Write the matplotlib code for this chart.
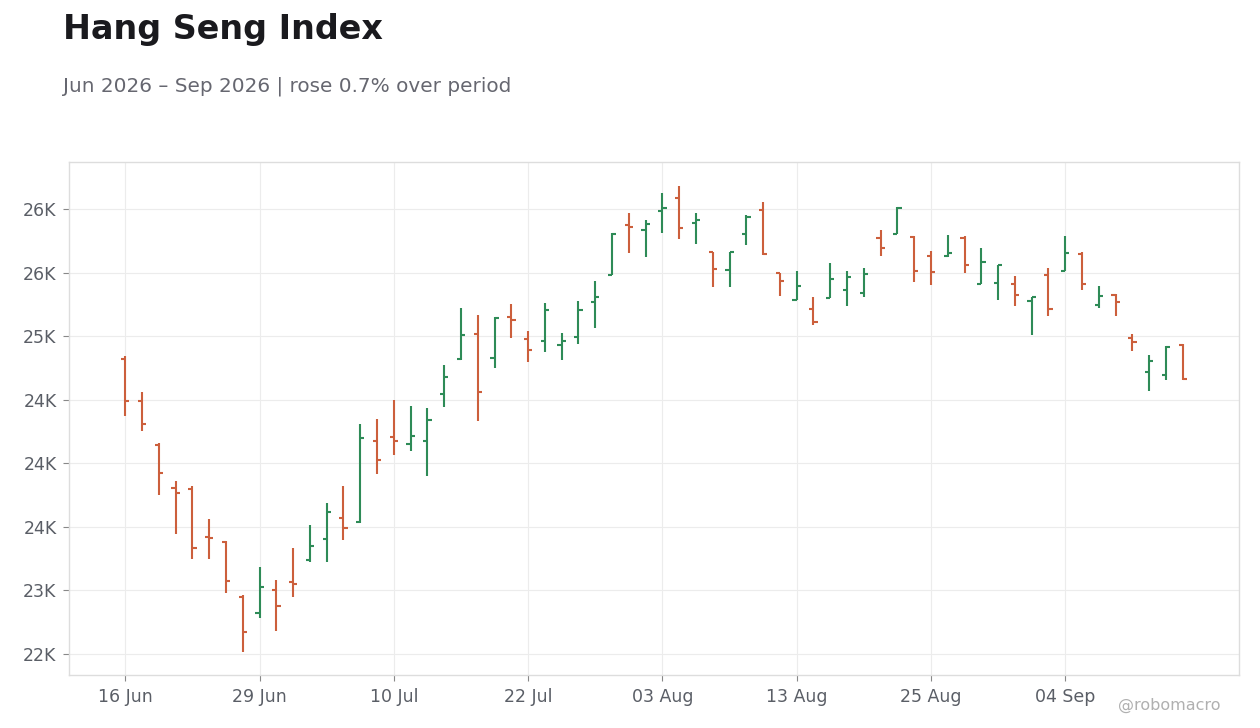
import matplotlib
matplotlib.use("Agg")
import matplotlib.pyplot as plt
import pandas as pd

plt.rcParams["font.family"] = ["DejaVu Sans"]

# trading days (HK holidays 19 Jun and 1 Jul skipped)
days = pd.bdate_range("2026-06-16", "2026-09-15")
days = days[~days.isin(pd.to_datetime(["2026-06-19", "2026-07-01"]))]

opens = [24823, 24492, 24146, 23808, 23800, 23423, 23385, 22951, 22825, 23006,
         23069, 23239, 23407, 23572, 23541, 24178, 24209, 24154, 24178, 24547,
         24823, 25019, 24830, 25153, 24980, 24964, 24933, 24996, 25271, 25483,
         25877, 25835, 25987, 26089, 25892, 25664, 25523, 25806, 25994, 25495,
         25287, 25216, 25302, 25365, 25342, 25774, 25806, 25782, 25633, 25633,
         25774, 25412, 25420, 25412, 25279, 25483, 25515, 25648, 25247, 25326,
         24988, 24720, 24697, 24933]
highs = [24844, 24561, 24157, 23861, 23821, 23562, 23391, 22962, 23184, 23082,
         23334, 23515, 23688, 23821, 24309, 24348, 24498, 24451, 24435, 24773,
         25221, 25166, 25148, 25253, 25040, 25261, 25025, 25276, 25434, 25809,
         25969, 25913, 26126, 26181, 25969, 25664, 25664, 25950, 26055, 25499,
         25512, 25308, 25575, 25512, 25536, 25835, 26013, 25788, 25670, 25796,
         25788, 25693, 25562, 25473, 25310, 25536, 25788, 25662, 25394, 25331,
         25017, 24852, 24925, 24938]
lows = [24372, 24256, 23753, 23446, 23250, 23250, 22982, 22518, 22786, 22683,
        22951, 23226, 23226, 23399, 23530, 23918, 24068, 24099, 23902, 24445,
        24815, 24335, 24752, 24988, 24799, 24878, 24815, 24941, 25066, 25480,
        25656, 25625, 25814, 25766, 25727, 25389, 25389, 25719, 25640, 25318,
        25285, 25090, 25300, 25239, 25310, 25633, 25800, 25428, 25405, 25625,
        25499, 25410, 25287, 25239, 25011, 25161, 25510, 25365, 25224, 25161,
        24886, 24571, 24657, 24657]
closes = [24490, 24311, 23926, 23766, 23336, 23415, 23077, 22673, 23029, 22880,
          23053, 23352, 23619, 23491, 24201, 24026, 24178, 24217, 24343, 24681,
          25011, 24561, 25145, 25127, 24891, 25208, 24960, 25208, 25310, 25805,
          25858, 25884, 26010, 25853, 25916, 25530, 25660, 25939, 25646, 25436,
          25397, 25111, 25452, 25468, 25491, 25696, 26010, 25515, 25507, 25652,
          25562, 25586, 25560, 25326, 25305, 25216, 25652, 25412, 25318, 25271,
          24956, 24807, 24917, 24663]

UP = "#2e8b57"
DOWN = "#cc5f3c"

fig = plt.figure(figsize=(12.6, 7.28), dpi=100)
ax = fig.add_axes([0.0548, 0.0728, 0.9285, 0.7047])

x = list(range(len(days)))
cols = [UP if c >= o else DOWN for o, c in zip(opens, closes)]
w = 0.25
ax.vlines(x, lows, highs, colors=cols, linewidth=1.5, zorder=3)
ax.hlines(opens, [i - w for i in x], x, colors=cols, linewidth=1.5, zorder=3)
ax.hlines(closes, x, [i + w for i in x], colors=cols, linewidth=1.5, zorder=3)

ax.set_xlim(-3.35, 66.35)
ax.set_ylim(22335, 26370)

xt = list(range(0, len(days), 8))
ax.set_xticks(xt)
ax.set_xticklabels([days[i].strftime("%d %b") for i in xt])
yt = list(range(22500, 26001, 500))
ax.set_yticks(yt)
ax.set_yticklabels([f"{v / 1000:.0f}K" for v in yt])

ax.grid(True, color="#ececec", linewidth=0.8, zorder=0)
ax.set_axisbelow(True)
for s in ax.spines.values():
    s.set_color("#dddddd")
    s.set_linewidth(1.0)
ax.tick_params(labelsize=12.5, length=4, width=0.8, color="#888888",
               labelcolor="#5a5e66", pad=5)

fig.text(0.05, 0.946, "Hang Seng Index", fontsize=24, fontweight="bold",
         color="#1a1a1e", ha="left", va="baseline")
fig.text(0.05, 0.874, "Jun 2026 \u2013 Sep 2026 | rose 0.7% over period",
         fontsize=14.4, color="#666770", ha="left", va="baseline")
fig.text(0.969, 0.025, "@robomacro", fontsize=11.5, color="#b0b0b0",
         ha="right", va="baseline")

fig.savefig("out.png", dpi=100, facecolor="white")
